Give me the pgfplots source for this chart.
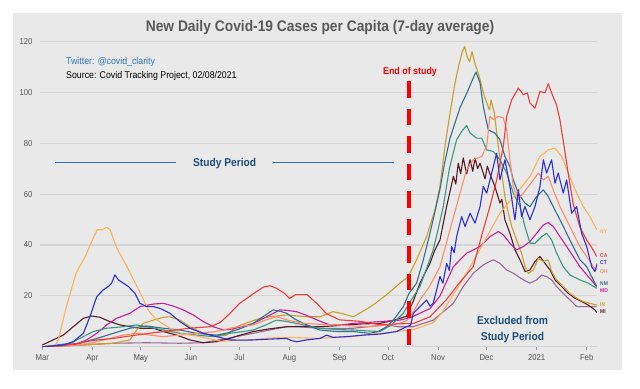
\documentclass[border=0pt]{standalone}
\usepackage{pgfplots}
\pgfplotsset{compat=1.18}
\usepackage{fontspec}
\setmainfont{Liberation Sans}
\newfontfamily\cond[FakeStretch=0.9]{Liberation Sans}
\definecolor{panel}{HTML}{E9E9E9}
\definecolor{gridc}{HTML}{D6D6D6}
\definecolor{tickc}{HTML}{555555}
\definecolor{titlec}{HTML}{595959}
\definecolor{twc}{HTML}{2E75B6}
\definecolor{studyline}{HTML}{2E6EB5}
\definecolor{studytext}{HTML}{1F4E79}
\definecolor{cNY}{HTML}{FFB05A}
\definecolor{cCA}{HTML}{F23B3B}
\definecolor{cCT}{HTML}{2F2FD0}
\definecolor{cOH}{HTML}{FF8B6B}
\definecolor{cNM}{HTML}{33708F}
\definecolor{cIL}{HTML}{3A9882}
\definecolor{cMD}{HTML}{C51F9A}
\definecolor{cIN}{HTML}{C8A02A}
\definecolor{cMI}{HTML}{5B1A2B}
\definecolor{cPU}{HTML}{9B6B98}
\begin{document}
\begin{tikzpicture}
\fill[white] (0bp,0bp) rectangle (640bp,-389bp);
\fill[panel] (13bp,-13bp) rectangle (622bp,-370bp);
\begin{axis}[
  at={(40bp,-346.8bp)}, anchor=south west,
  scale only axis, width=557bp, height=305.3bp,
  xmin=-1.4, xmax=343.4, ymin=0, ymax=120,
  axis line style={draw=none},
  ymajorgrids, grid style={color=gridc, line width=1.1bp},
  ytick={0,20,...,120}, yticklabels={,20,40,60,80,100,120},
  xtick={0,31,61,92,122,153,184,214,245,275,306,337},
  xticklabels={Mar,Apr,May,Jun,Jul,Aug,Sep,Oct,Nov,Dec,2021,Feb},
  tick label style={font=\cond\fontsize{8.6}{10}\selectfont, text=tickc},
  /pgf/number format/assume math mode=true,
  ytick style={draw=none},
  xtick style={draw=gridc!70!black, line width=0.8bp},
  major tick length=3bp, tick align=outside,
  xtick pos=bottom, ytick pos=left,
  xticklabel style={yshift=-1bp},
  yticklabel style={xshift=-1bp},
  clip mode=individual,
  every axis plot/.append style={line width=1.1bp, line join=round},
]
% purple
\addplot[draw=cPU] coordinates {(0,0)(23.3,0.7)(44,1.4)(64.6,1.6)(85.2,1.4)(99.7,1.6)(112,3)(130.6,5.3)(140,6.5)(151.3,7.9)(160,7.8)(171.9,7.3)(182,7.2)(192.5,7.3)(203,8)(213.2,8.6)(220,7.9)(229.7,7.9)(242,10.5)(254.4,17)(260.6,23.7)(266.8,28.9)(273,32.2)(279.2,34.2)(283.3,32.8)(287.5,30.2)(291.6,28.9)(297.8,26.3)(301.9,25)(306,26.3)(309.1,28.2)(312.2,27.6)(315.3,26.3)(318.4,23.7)(322.5,21)(326.7,18.4)(330.8,15.8)(337,15.8)(343.2,15.8)};
% MI
\addplot[draw=cMI] coordinates {(0,0.7)(13,4.6)(19.2,7.9)(25.4,11.2)(30.6,12.1)(35.7,11.6)(41.9,9.9)(48.1,8.6)(54.3,7.9)(60.5,7.3)(68.7,7.3)(74.9,6)(83.2,4.6)(91.4,2.7)(99.7,1.6)(107.9,2)(116.2,3.3)(122,4.5)(130.6,6)(140,7)(151.3,7.9)(160,8)(171.9,7.9)(180,8.2)(188.4,8.6)(198,9)(209,9.2)(218,10.5)(225.5,12)(229.7,18)(233.8,25)(240,32.8)(243,38)(246.2,42)(250.3,55.1)(254.5,67)(256,64)(257.5,72.2)(259,68)(260.6,74.2)(262.7,68)(264.8,73.5)(266.5,69)(267.9,74.2)(269.5,70)(271,72.2)(274.1,66)(275.5,71)(277.1,68)(280.2,63)(283.3,56.5)(284.5,58)(286.4,49.9)(289.5,44.6)(292.6,38.1)(295.7,34.2)(298.8,29.6)(301.9,30.2)(305,33.5)(308.1,35.5)(311.2,32.8)(314.3,30.2)(317.4,26.3)(321.5,23.7)(325.6,21)(329.8,19.1)(333.9,17.8)(338,16.4)(342.1,14.5)(343.2,13.5)};
% IN gold
\addplot[draw=cIN] coordinates {(0,0)(25.4,0.7)(44,1.4)(54.3,2.7)(58.4,6.6)(62.5,9.2)(68.7,10.5)(74.9,11.6)(79,11.8)(85.2,10.5)(91.4,7.9)(99.7,5.3)(107.9,4)(114.1,4.6)(120.3,7.9)(127,9.5)(134.8,11.2)(143,12)(151.3,12.5)(163.6,11.8)(171.9,11.8)(180,13.8)(186,13)(192.5,11.8)(200,14.5)(206,17)(213.2,20.5)(221.4,25)(226.6,27.6)(231.7,34.2)(237.9,43.3)(243.1,53.8)(246.2,63)(249.3,78.8)(252.4,91.9)(255.5,103.7)(258,111)(260,116)(261.5,118)(263,114)(264.5,112)(266,116)(268,111)(269.9,107.6)(273.7,98.4)(276.8,93.1)(277.8,97)(279.9,91.8)(282.3,78.8)(284.4,68.3)(286.4,59.1)(288.5,52.5)(290.6,47.3)(293.6,42)(296.7,36.8)(298.8,31.5)(300.9,28.9)(304,30.2)(307.1,34.8)(310.2,33.5)(313.2,34.2)(315.3,29.6)(318.4,26.3)(322.5,23.7)(326.7,21)(330.8,19.1)(334.9,17.8)(339,17.1)(343.2,16.4)};
% MD magenta
\addplot[draw=cMD] coordinates {(0,0)(19.2,0.7)(27.5,2.7)(33.7,5.3)(39.9,8.6)(46,11.2)(54.3,13.2)(60.5,15.8)(68.7,16.8)(74.9,17.1)(81.1,16)(87.3,14.5)(93.5,12.5)(99.7,9.9)(105.9,7.9)(112.1,6.6)(118,7)(124,8)(130.6,9.2)(138,11.5)(147.1,14.5)(152,14.3)(157.4,13.8)(163,12.5)(167.8,11.2)(173,9.8)(178.1,8.6)(185,8.6)(192.5,9.2)(200,9.5)(209,9.9)(221.4,10.5)(228,11.5)(233.8,13.2)(240,15)(246.2,20)(254.5,31.5)(262.7,36.8)(271,39.4)(277.1,43.3)(282.3,45.3)(285.4,44)(289.5,40.7)(293.6,38.1)(297.8,39.4)(301.9,41.4)(306,44.6)(310.2,47.9)(313.2,48.8)(316.3,47.3)(320.5,43.3)(324.6,39.4)(328.7,35.5)(332.8,31.5)(338,27.6)(343.2,23.7)};
% teal-green
\addplot[draw=cIL] coordinates {(0,0)(17.2,1.4)(25.4,4)(31.6,6)(39.9,7.3)(50.2,7.9)(58.4,8.6)(64.6,7.9)(74.9,6.6)(85.2,5.3)(95.5,4.6)(105.9,4)(116.2,5.3)(122,5.8)(130.6,6.6)(138,8.5)(145,10.5)(151,10)(157.4,9.2)(165,8.2)(171.9,7.3)(182,6.8)(192.5,6.6)(200,6.3)(209,6)(216,8.5)(223.5,13.2)(228,18)(233.8,23.7)(238,31)(242,38.1)(245,46)(248.2,55)(252,70)(256.5,81.4)(260,85)(262.7,87)(264.8,84)(268.9,82)(272,82)(275.1,77.4)(279.2,76.8)(283.3,73.5)(287.5,68.3)(291.6,60.4)(295.7,55.1)(298.8,47.3)(301.9,40.7)(305,40.7)(309.1,43.3)(312.2,44.6)(315.3,42)(318.4,36.8)(322.5,31.5)(326.7,28.2)(332.8,26.3)(338,25)(343.2,23)};
% NM dark teal
\addplot[draw=cNM] coordinates {(0,0)(23.3,1.4)(33.7,3.3)(44,5.3)(54.3,7.3)(64.6,8.2)(74.9,7.3)(85.2,6.6)(95.5,5.3)(107.9,4.6)(115,5.5)(122,7)(130.6,9.2)(137,12)(143,14.5)(147,14)(151.3,13.2)(156,11)(161.6,9.2)(166,8)(171.9,6.6)(182.2,6)(192.5,6)(202.8,5.3)(208,6)(213.2,7.9)(218,11)(223.5,15.8)(227,21)(231.7,25)(235.9,34.2)(240,44.6)(244.1,56)(246.2,62)(249,72)(252.4,82)(258.6,94)(263.7,101)(267,106)(268.5,108)(271,103.7)(273,94.5)(276.1,85.3)(280.2,84)(283.3,81.4)(286.4,74.8)(289.5,70.9)(291.6,65.6)(294.7,60.4)(298.8,56.5)(301.9,55.1)(306,59.1)(310.2,61.7)(313.2,59.1)(316.3,55.1)(320.5,49.9)(324.6,44.6)(328.7,39.4)(332.8,34.2)(337,31.5)(341.1,26.3)(343.2,23.7)};
% OH salmon
\addplot[draw=cOH] coordinates {(0,0)(20,0.5)(29.5,1.4)(41.9,3.3)(50.2,4.6)(58.4,5.3)(66.7,4.6)(74.9,4)(85.2,4.6)(95.5,5.3)(107.9,6)(116.2,7.3)(122,8)(130.6,8.6)(138,10.5)(145,11.8)(152,10.5)(161.6,9.2)(172,8.8)(182.2,8.6)(192,8.2)(202.8,7.9)(212,8.5)(221.4,9.2)(226,10.5)(230,14)(233.8,18.4)(240,24)(246.2,31.5)(252.4,46)(258.6,60.4)(262.7,69.6)(266.8,73.5)(272,74.8)(275.1,78.8)(277.1,90.6)(279.2,89.3)(282.3,90.6)(285.4,89.9)(287.5,85.3)(289.5,73.5)(291.6,63)(294.7,57.8)(297.8,60.4)(300.9,63)(304,65.6)(307.1,68.3)(310.2,65.6)(313.2,67)(316.3,61.7)(320.5,55.1)(324.6,49.9)(328.7,44.6)(332.8,39.4)(337,35.5)(341.1,31.5)(343.2,30.2)};
% NY
\addplot[draw=cNY] coordinates {(0,0)(8,0.3)(10,3)(15,16)(21,29)(27,36)(31,42)(34,46)(37,46)(40,47)(42,46)(46,39)(52,32)(56,27)(60,22)(66,14)(71,10.5)(79,7.4)(87,5)(95,4.3)(105,3)(110,2.2)(120,2.5)(131,2.8)(141,3.5)(151,3.7)(162,3.5)(172,3.3)(182,3.8)(193,4)(203,5)(213,5.5)(222,6.2)(230,6.8)(242,9.5)(247,13)(252.4,18.4)(262.7,28.9)(273,40.7)(283.3,52.5)(293.6,60.4)(301.9,67)(308.1,74.8)(313.2,77.4)(317.4,78.1)(321.5,74.8)(325.6,68.3)(330.8,60.4)(334.9,55.1)(339,51.2)(343.2,46)};
% CA
\addplot[draw=cCA] coordinates {(0,0)(10,0.3)(23,1.4)(31,2.5)(44,3.3)(58,4.6)(75,6)(91,7.3)(104,7.9)(110,9.5)(116,13)(122,17)(131,21)(137,23.5)(141,24)(145,23)(150,21)(153,19)(157,20.5)(164,20.5)(170,17)(176,13)(184,10.6)(197,10)(209,8.7)(220,9)(230,9.2)(240,11.8)(250,18.4)(258,25)(262,28)(266.8,31.5)(273,46)(277.1,55.1)(281.3,65.6)(285.4,78.8)(287.5,90.6)(290.6,97.1)(294.7,101.7)(297.8,99.1)(300.3,99.8)(301.9,95.8)(305,93.8)(308.1,100.4)(311.2,99.8)(313.2,103.4)(315.3,99.8)(318.4,95)(320.5,89)(322.5,81)(325.6,68)(328.7,56)(332.8,47)(337,42)(341.1,38)(343.2,35.5)};
% CT
\addplot[draw=cCT] coordinates {(0,0)(13,0.7)(19.2,2)(25.4,5.3)(29.5,11.8)(33.7,19.7)(37.8,22.4)(40.9,23.7)(42.9,25)(45,28.3)(47.1,26.3)(50.2,25)(53.3,23.7)(57.4,21)(60.5,17.1)(64.6,15.8)(68.7,15.8)(72.9,15.1)(79,13.2)(85.2,9.9)(91.4,7.3)(99.7,5.3)(107.9,4)(116.2,2.7)(124,2.6)(130.6,2.7)(140,3)(151.3,3.3)(154,2.5)(157.4,2)(163.6,2.7)(171.9,3.3)(176,4.6)(180,3.7)(188.4,4)(198.7,4.6)(209,5)(219.3,6)(225.5,7.9)(228,8.5)(229.7,13.2)(233.8,15.8)(237.9,18.4)(240,16)(242,17.1)(246.2,27.6)(248,25)(250.3,32.8)(252,30)(253.4,39.4)(255,37)(256.5,43.3)(259.6,51.2)(261.7,47.3)(264.8,52.5)(267.9,48.6)(271,55.1)(273,63)(275.1,60.4)(278.2,68.3)(281.3,76.1)(283.3,65.6)(286.4,73.5)(289.5,63)(292.6,49.9)(294.7,61.7)(296.7,51.2)(298.8,55.1)(301.9,49.9)(305,55.1)(308.1,63)(310.2,73.5)(312.2,68.3)(315.3,73.5)(317.4,64.3)(319.4,68.3)(322.5,60.4)(324.6,65.6)(327.7,52.5)(330.8,55.1)(333.9,44.6)(337,39.4)(340.1,31.5)(342.1,29.6)(343.6,32.8)};
% annotations
\draw[red, line width=4bp, dash pattern=on 16.5bp off 11bp] (axis cs:227.3,104.3) -- (axis cs:227.3,0);
\draw[studyline, line width=1.8bp] (axis cs:7.9,72.45) -- (axis cs:82.8,72.45);
\draw[studyline, line width=1.8bp] (axis cs:142.6,72.45) -- (axis cs:217.7,72.45);
\end{axis}
\node[anchor=base, text=titlec, font=\cond\bfseries\fontsize{15.4}{18}\selectfont, inner sep=0pt] at (320bp,-31.7bp) {New Daily Covid-19 Cases per Capita (7-day average)};
\node[anchor=base west, text=twc, font=\cond\fontsize{9.8}{12}\selectfont, inner sep=0pt] at (66bp,-64.5bp) {Twitter: @covid\_clarity};
\node[anchor=base west, text=black, font=\cond\fontsize{9.8}{12}\selectfont, inner sep=0pt] at (66bp,-78.5bp) {Source: Covid Tracking Project, 02/08/2021};
\node[anchor=base, text=red, font=\cond\bfseries\fontsize{9.9}{12}\selectfont, inner sep=0pt] at (410bp,-74bp) {End of study};
\node[anchor=base, text=studytext, font=\cond\bfseries\fontsize{11.4}{13}\selectfont, inner sep=0pt] at (224.7bp,-166.7bp) {Study Period};
\node[anchor=base, text=studytext, font=\cond\bfseries\fontsize{11.4}{13}\selectfont, inner sep=0pt] at (512.5bp,-324bp) {Excluded from};
\node[anchor=base, text=studytext, font=\cond\bfseries\fontsize{11.4}{13}\selectfont, inner sep=0pt] at (512.5bp,-340bp) {Study Period};
\begin{scope}[every node/.style={anchor=west, inner sep=0pt, font=\cond\bfseries\fontsize{5.5}{6}\selectfont}]
\node[text=cNY] at (600bp,-231.7bp) {NY};
\node[text=cCA] at (600bp,-255.4bp) {CA};
\node[text=cCT] at (600bp,-262.6bp) {CT};
\node[text=cOH] at (600bp,-271.7bp) {OH};
\node[text=cNM] at (600bp,-283.2bp) {NM};
\node[text=cMD] at (600bp,-290.2bp) {MD};
\node[text=cIN] at (600bp,-304.2bp) {IN};
\node[text=cMI] at (600bp,-311.4bp) {MI};
\end{scope}
\end{tikzpicture}
\end{document}
